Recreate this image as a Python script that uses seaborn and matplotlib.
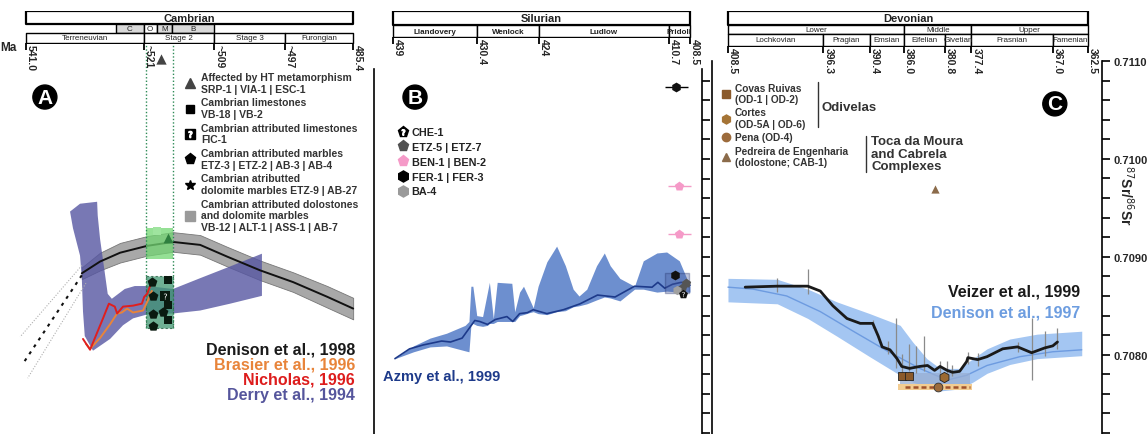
import matplotlib
matplotlib.use("Agg")
import matplotlib.pyplot as plt
from matplotlib.lines import Line2D
from matplotlib.ticker import MultipleLocator, FixedLocator, FormatStrFormatter, NullFormatter
import seaborn as sns

# SECTION - DATA
# Panel A (Cambrian) - ages in Ma, 87Sr/86Sr
den98_age = [531.5, 528.4, 525.0, 520.4, 516.0, 511.4, 506.8, 501.2, 495.6, 489.8, 485.4]
den98_sr = [0.70883, 0.70895, 0.70904, 0.70911, 0.70915, 0.70912, 0.70900, 0.70886, 0.70874, 0.70859, 0.70847]
den98_hi = [0.70889, 0.70904, 0.70914, 0.70921, 0.70925, 0.70922, 0.70910, 0.70896, 0.70884, 0.70870, 0.70858]
den98_lo = [0.70877, 0.70886, 0.70894, 0.70901, 0.70905, 0.70902, 0.70890, 0.70876, 0.70864, 0.70848, 0.70836]
den98_ext_age = [531.5, 541.7]
den98_ext_sr = [0.70881, 0.70789]
den98_ext_hi_age = [531.5, 542.0]
den98_ext_hi_sr = [0.70891, 0.70818]
den98_ext_lo_age = [530.8, 540.7]
den98_ext_lo_sr = [0.70873, 0.70776]

derry_age = [533.5, 531.8, 528.9, 528.8, 528.4, 527.7, 527.1, 526.4, 524.2, 522.5, 520.4, 516.0,
             511.4, 506.3, 500.9, 500.9, 506.3, 511.4, 516.0, 520.4, 522.8, 524.5, 526.7, 529.6,
             531.0, 531.3, 531.5, 531.8, 533.0]
derry_sr = [0.70946, 0.70954, 0.70956, 0.70942, 0.70918, 0.70888, 0.70862, 0.70857, 0.70867, 0.70870,
            0.70870, 0.70867, 0.70878, 0.70890, 0.70903, 0.70860, 0.70852, 0.70845, 0.70842, 0.70841,
            0.70837, 0.70830, 0.70816, 0.70804, 0.70819, 0.70844, 0.70878, 0.70901, 0.70929]

nich_age = [531.3, 530.1, 527.9, 526.9, 525.9, 525.5, 524.5, 522.8, 521.3, 520.9, 520.4, 519.9]
nich_sr = [0.70816, 0.70805, 0.70837, 0.70852, 0.70849, 0.70842, 0.70849, 0.70850, 0.70852, 0.70859, 0.70862, 0.70870]
bras_age = [530.8, 530.1, 528.4, 526.7, 525.5, 524.7, 523.8, 522.8, 521.1, 520.3, 519.6]
bras_sr = [0.70811, 0.70806, 0.70817, 0.70831, 0.70842, 0.70843, 0.70847, 0.70843, 0.70845, 0.70855, 0.70865]

sample_box_age = [520.6, 516.0]
ht_box_sr = [0.70898, 0.70929]
marble_box_sr = [0.70827, 0.70880]
ht_marker_age, ht_marker_sr = [518.0], [0.71102]
ht_sq_age, ht_sq_sr = [518.7], [0.70926]
ht_tri_age, ht_tri_sr = [516.9], [0.70919]
marble_age = [519.6, 519.4, 519.4, 517.7, 519.4]
marble_sr = [0.70874, 0.70860, 0.70841, 0.70844, 0.70829]
lime_age = [516.8, 516.8, 516.8]
lime_sr = [0.70876, 0.70851, 0.70835]
fic_age, fic_sr = [517.4], [0.70860]

# Panel B (Silurian)
azmy_age = [438.8, 437.3, 435.9, 434.0, 433.1, 431.9, 430.6, 430.1, 429.3, 428.5, 427.3, 426.7, 426.0, 425.2,
            424.6, 423.2, 421.5, 419.8, 418.0, 416.2, 414.2, 412.4, 411.8, 411.1, 410.3, 409.4, 408.5]
azmy_sr = [0.70796, 0.70806, 0.70810, 0.70814, 0.70813, 0.70817, 0.70835, 0.70834, 0.70831, 0.70836, 0.70839,
           0.70834, 0.70842, 0.70843, 0.70846, 0.70842, 0.70846, 0.70852, 0.70861, 0.70859, 0.70870, 0.70869,
           0.70874, 0.70868, 0.70872, 0.70874, 0.70871]
azmy_band_age = [438.8, 436.9, 435.2, 433.5, 431.6, 431.2, 431.0, 430.8, 430.4, 429.8, 429.3, 429.1, 428.7,
                 428.3, 426.8, 426.5, 426.0, 425.6, 425.0, 424.6, 424.1, 423.2, 422.2, 421.3, 420.5, 419.9,
                 419.1, 418.1, 417.3, 416.7, 415.7, 414.2, 413.3, 411.9, 410.9, 409.6, 408.5]
azmy_hi = [0.70796, 0.70809, 0.70817, 0.70822, 0.70830, 0.70834, 0.70870, 0.70870, 0.70840, 0.70839, 0.70864,
           0.70874, 0.70837, 0.70874, 0.70873, 0.70844, 0.70864, 0.70870, 0.70857, 0.70848, 0.70870, 0.70895,
           0.70911, 0.70891, 0.70867, 0.70860, 0.70867, 0.70891, 0.70904, 0.70891, 0.70878, 0.70870, 0.70896,
           0.70904, 0.70905, 0.70896, 0.70870]
azmy_lo = [0.70796, 0.70803, 0.70808, 0.70809, 0.70804, 0.70803, 0.70830, 0.70832, 0.70830, 0.70829, 0.70830,
           0.70832, 0.70832, 0.70834, 0.70834, 0.70834, 0.70840, 0.70841, 0.70843, 0.70844, 0.70842, 0.70841,
           0.70844, 0.70845, 0.70849, 0.70850, 0.70852, 0.70856, 0.70859, 0.70858, 0.70855, 0.70867, 0.70867,
           0.70864, 0.70865, 0.70864, 0.70864]
fer_err_age, fer_err_sr, fer_xerr = [409.9], [0.71074], [1.15]
fer_age, fer_sr = [410.0], [0.70881]
ben_age, ben_sr, ben_xerr = [409.6, 409.6], [0.70972, 0.70923], [1.2, 1.2]
etz_age, etz_sr = [409.3, 408.9], [0.70868, 0.70873]
ba_age, ba_sr = [409.8], [0.70866]
che_age, che_sr = [409.2], [0.70862]
b_box_age = [411.1, 408.6]
b_box_sr = [0.70863, 0.70884]

# Panel C (Devonian)
den97_band_age = [408.5, 402.2, 398.3, 394.6, 390.4, 386.5, 384.9, 383.1, 381.4, 378.9, 377.2, 375.4, 372.5, 369.0, 363.3]
den97_hi = [0.70878, 0.70877, 0.70867, 0.70854, 0.70842, 0.70830, 0.70813, 0.70796, 0.70786, 0.70786, 0.70796,
            0.70806, 0.70816, 0.70821, 0.70824]
den97_lo = [0.70854, 0.70852, 0.70837, 0.70819, 0.70798, 0.70779, 0.70772, 0.70767, 0.70763, 0.70765, 0.70772,
            0.70781, 0.70790, 0.70796, 0.70799]
den97_age = [408.5, 405.3, 401.0, 396.7, 392.5, 388.2, 384.0, 380.5, 378.0, 375.4, 371.2, 367.0, 363.3]
den97_sr = [0.70869, 0.70867, 0.70860, 0.70844, 0.70824, 0.70804, 0.70786, 0.70774, 0.70779, 0.70789, 0.70798,
            0.70803, 0.70805]
veizer_age = [406.3, 402.2, 398.3, 396.7, 395.1, 393.3, 391.6, 390.0, 389.3, 388.8, 387.8, 386.9, 386.3, 385.3,
              384.0, 383.0, 382.1, 381.4, 380.5, 379.8, 378.9, 378.0, 377.85, 376.6, 375.4, 373.4, 371.5, 369.7,
              368.0, 367.0, 366.4]
veizer_sr = [0.70869, 0.70870, 0.70870, 0.70865, 0.70850, 0.70837, 0.70832, 0.70832, 0.70819, 0.70808, 0.70805,
             0.70796, 0.70788, 0.70786, 0.70788, 0.70789, 0.70784, 0.70788, 0.70784, 0.70782, 0.70783, 0.70793,
             0.70797, 0.70795, 0.70798, 0.70806, 0.70808, 0.70802, 0.70807, 0.70809, 0.70813]
veizer_err_age = [402.2, 398.3, 390.0, 388.1, 387.0, 386.3, 385.4, 384.5, 383.5, 381.4, 380.5, 379.9, 377.85,
                  376.6, 371.5, 369.7, 368.0, 366.4]
veizer_err_hi = [0.70878, 0.70888, 0.70835, 0.70814, 0.70837, 0.70801, 0.70811, 0.70809, 0.70819, 0.70794,
                 0.70794, 0.70789, 0.70803, 0.70802, 0.70813, 0.70837, 0.70824, 0.70827]
veizer_err_lo = [0.70864, 0.70862, 0.70827, 0.70801, 0.70786, 0.70781, 0.70783, 0.70781, 0.70783, 0.70781,
                 0.70781, 0.70778, 0.70791, 0.70788, 0.70803, 0.70774, 0.70799, 0.70806]
covas_age, covas_sr = [386.3, 385.4], [0.70778, 0.70778]
cortes_age, cortes_sr = [380.9], [0.70777]
pena_age, pena_sr = [381.7], [0.70767]
cab_age, cab_sr = [382.1], [0.70969]
odiv_box_age, odiv_box_sr = [386.5, 377.6], [0.70770, 0.70781]
toca_box_age, toca_box_sr = [386.8, 377.3], [0.70764, 0.70770]
toca_line_age, toca_line_sr = [385.9, 377.6], [0.70767, 0.70767]

# Headers (label, start, end, face)
cambrian_rows = [
    [("Cambrian", 541.0, 485.4, "white")],
    [("C", 525.7, 521.0, "#d9d9d9"), ("O", 521.0, 518.8, "white"), ("M", 518.8, 516.2, "#d9d9d9"),
     ("B", 516.2, 509.0, "#d9d9d9")],
    [("Terreneuvian", 541.0, 521.0, "white"), ("Stage 2", 521.0, 509.0, "white"),
     ("Stage 3", 509.0, 497.0, "white"), ("Furongian", 497.0, 485.4, "white")],
]
cambrian_ticks = [541.0, 521.0, 509.0, 497.0, 485.4]
cambrian_labels = ["541.0", "~521", "~509", "~497", "485.4"]
silurian_rows = [
    [("Silurian", 439.0, 408.5, "white")],
    [("Llandovery", 439.0, 430.4, "white"), ("Wenlock", 430.4, 424.0, "white"),
     ("Ludlow", 424.0, 410.7, "white"), ("Pridoli", 410.7, 408.5, "white")],
]
silurian_ticks = [439.0, 430.4, 424.0, 410.7, 408.5]
silurian_labels = ["439", "430.4", "424", "410.7", "408.5"]
devonian_rows = [
    [("Devonian", 408.5, 362.5, "white")],
    [("Lower", 408.5, 386.0, "white"), ("Middle", 386.0, 377.4, "white"), ("Upper", 377.4, 362.5, "white")],
    [("Lochkovian", 408.5, 396.3, "white"), ("Pragian", 396.3, 390.4, "white"), ("Emsian", 390.4, 386.0, "white"),
     ("Eifelian", 386.0, 380.8, "white"), ("Givetian", 380.8, 377.4, "white"),
     ("Frasnian", 377.4, 367.0, "white"), ("Famenian", 367.0, 362.5, "white")],
]
devonian_ticks = [408.5, 396.3, 390.4, 386.0, 380.8, 377.4, 367.0, 362.5]
devonian_labels = ["408.5", "396.3", "390.4", "386.0", "380.8", "377.4", "367.0", "362.5"]
# !SECTION

# SECTION - CONFIG
sns.set_style("white")
plt.rcParams["font.family"] = ["Liberation Sans", "DejaVu Sans"]
W, H = 1148, 435
# !SECTION


# SECTION - FUNCTIONS
def add_axes_px(fig, x0, x1, y0, y1):
    return fig.add_axes([x0 / W, 1 - y1 / H, (x1 - x0) / W, (y1 - y0) / H])


def draw_header(ax, rows, bounds, ticks, tick_labels, xlim, sub_weight="normal"):
    for r, (cells, (top, bot)) in enumerate(zip(rows, bounds)):
        for label, a0, a1, face in cells:
            ax.fill_between([a0, a1], top, bot, facecolor=face, edgecolor="black",
                            linewidth=1.6 if r == 0 else 1.0)
            ax.text((a0 + a1) / 2, (top + bot) / 2, label, ha="center", va="center",
                    fontsize=8 if r == 0 else 5.8,
                    fontweight="bold" if r == 0 else sub_weight, color="#222222")
    ax.set_xlim(xlim)
    ax.set_ylim(bounds[-1][1], 0)
    ax.set_xticks(ticks)
    ax.set_xticklabels(tick_labels, rotation=270, ha="left", fontsize=7.5, fontweight="bold")
    ax.tick_params(axis="x", length=5, width=1.3, pad=-4, bottom=True, color="black")
    ax.set_yticks([])
    for s in ax.spines.values():
        s.set_visible(False)
    ax.patch.set_visible(False)


def panel_letter(ax, x, y, s):
    ax.text(x, y, s, transform=ax.transAxes, ha="center", va="center", color="white",
            fontsize=15, fontweight="bold",
            bbox=dict(boxstyle="circle,pad=0.12", fc="black", ec="black"))


def style_frame(ax):
    ax.spines["top"].set_visible(False)
    ax.spines["bottom"].set_visible(False)
    for side in ("left", "right"):
        ax.spines[side].set_visible(True)
        ax.spines[side].set_color("black")
        ax.spines[side].set_linewidth(1.2)
    ax.set_xticks([])
    ax.patch.set_visible(False)
# !SECTION


# SECTION - MAIN
if __name__ == "__main__":
    fig = plt.figure(figsize=(11.48, 4.35), dpi=100)

    # ---------------- Panel A ----------------
    ax_a = add_axes_px(fig, 0, 362, 45, 435)
    xlim_a = (545.4, 483.9)
    ax_a.set_xlim(xlim_a)
    ax_a.set_ylim(0.70719, 0.71117)
    ax_a.set_axis_off()

    ax_a.fill_between(den98_age, den98_lo, den98_hi, facecolor="#a8a8a8", edgecolor="#777777",
                      linewidth=0.6, zorder=1)
    ax_a.fill(derry_age, derry_sr, color="#5656a2", alpha=0.8, linewidth=0, zorder=2)
    sns.lineplot(x=den98_age, y=den98_sr, ax=ax_a, color="#111111", linewidth=1.4,
                 sort=False, estimator=None, zorder=3)
    sns.lineplot(x=den98_ext_age, y=den98_ext_sr, ax=ax_a, color="#111111", linewidth=1.5,
                 linestyle=(0, (1.5, 2.5)), sort=False, estimator=None, zorder=3)
    for xa, ya in ((den98_ext_hi_age, den98_ext_hi_sr), (den98_ext_lo_age, den98_ext_lo_sr)):
        sns.lineplot(x=xa, y=ya, ax=ax_a, color="#b0b0b0", linewidth=0.8,
                     linestyle=(0, (1, 1.5)), sort=False, estimator=None, zorder=3)

    ax_a.fill_between(sample_box_age, ht_box_sr[0], ht_box_sr[1], facecolor="#72d672",
                      alpha=0.75, linewidth=0, zorder=4)
    ax_a.fill_between(sample_box_age, marble_box_sr[0], marble_box_sr[1], facecolor="#3f9670",
                      edgecolor="#1e5a3c", linestyle=(0, (2, 2)), alpha=0.75, linewidth=0.8, zorder=4)
    ax_a.vlines(sample_box_age, marble_box_sr[0], 0.71117, colors="#2e8b57",
                linestyles=(0, (1, 1.5)), linewidth=1.0, zorder=4)

    sns.lineplot(x=bras_age, y=bras_sr, ax=ax_a, color="#e8843a", linewidth=1.4,
                 sort=False, estimator=None, zorder=5)
    sns.lineplot(x=nich_age, y=nich_sr, ax=ax_a, color="#e01e1e", linewidth=1.4,
                 sort=False, estimator=None, zorder=5)

    sns.scatterplot(x=ht_marker_age, y=ht_marker_sr, ax=ax_a, marker="^", s=55, color="#444444",
                    linewidth=0, zorder=6, clip_on=False)
    sns.scatterplot(x=ht_sq_age, y=ht_sq_sr, ax=ax_a, marker="s", s=40, color="#9fe49f",
                    linewidth=0, zorder=6)
    sns.scatterplot(x=ht_tri_age, y=ht_tri_sr, ax=ax_a, marker="^", s=50, color="#2f7f3f",
                    linewidth=0, zorder=6)
    sns.scatterplot(x=marble_age, y=marble_sr, ax=ax_a, marker="p", s=55, color="#0a1a10",
                    linewidth=0, zorder=6)
    sns.scatterplot(x=lime_age, y=lime_sr, ax=ax_a, marker="s", s=28, color="#0a1a10",
                    linewidth=0, zorder=6)
    sns.scatterplot(x=fic_age, y=fic_sr, ax=ax_a, marker="s", s=45, color="#0a1a10",
                    linewidth=0, zorder=6)
    sns.scatterplot(x=fic_age, y=fic_sr, ax=ax_a, marker="$?$", s=18, color="white",
                    linewidth=0, zorder=7)

    handles_a = [
        Line2D([], [], marker="^", color="#444444", ls="", ms=7),
        Line2D([], [], marker="s", color="black", ls="", ms=6),
        (Line2D([], [], marker="s", color="black", ls="", ms=7),
         Line2D([], [], marker="$?$", color="white", ls="", ms=4.5)),
        Line2D([], [], marker="p", color="black", ls="", ms=8),
        Line2D([], [], marker="*", color="black", ls="", ms=7),
        Line2D([], [], marker="s", color="#9a9a9a", ls="", ms=7),
    ]
    labels_a = [
        "Affected by HT metamorphism\nSRP-1 | VIA-1 | ESC-1",
        "Cambrian limestones\nVB-18 | VB-2",
        "Cambrian attributed limestones\nFIC-1",
        "Cambrian attributed marbles\nETZ-3 | ETZ-2 | AB-3 | AB-4",
        "Cambrian atributted\ndolomite marbles ETZ-9 | AB-27",
        "Cambrian attributed dolostones\nand dolomite marbles\nVB-12 | ALT-1 | ASS-1 | AB-7",
    ]
    leg_a = ax_a.legend(handles_a, labels_a, loc="upper left", bbox_to_anchor=(0.51, 0.928),
                        frameon=False, prop={"size": 7.5, "weight": "bold"}, labelcolor="#333333",
                        handlelength=1.0, handletextpad=0.6, labelspacing=0.36,
                        borderpad=0, borderaxespad=0)
    for t in leg_a.get_texts():
        t.set_clip_box(ax_a.bbox)
        t.set_clip_on(True)

    refs_a = ["Denison et al., 1998", "Brasier et al., 1996", "Nicholas, 1996", "Derry et al., 1994"]
    cols_a = ["#1a1a1a", "#e8843a", "#dd1c1c", "#55559c"]
    for i, (lab, col) in enumerate(zip(refs_a, cols_a)):
        ax_a.text(0.981, 0.218 - i * 0.0385, lab, transform=ax_a.transAxes, ha="right", va="center",
                  fontsize=11.5, fontweight="bold", color=col)
    panel_letter(ax_a, 0.124, 0.864, "A")

    hd_a = add_axes_px(fig, 0, 362, 12, 44)
    draw_header(hd_a, cambrian_rows, [(0, 13), (13, 22), (22, 32)], cambrian_ticks,
                cambrian_labels, xlim_a)
    hd_a.text(0.0, -0.12, "Ma", transform=hd_a.transAxes, ha="left", va="center",
              fontsize=8.5, fontweight="bold")

    # ---------------- Panel B ----------------
    ax_b = add_axes_px(fig, 374, 702, 70, 435)
    xlim_b = (440.95, 407.27)
    ax_b.set_xlim(xlim_b)
    ax_b.set_ylim(0.70719, 0.71092)
    style_frame(ax_b)
    ax_b.yaxis.tick_right()
    ax_b.yaxis.set_major_locator(MultipleLocator(0.0002))
    ax_b.yaxis.set_major_formatter(NullFormatter())
    ax_b.tick_params(axis="y", which="both", right=True, left=False, length=6, width=1.2,
                     direction="out", color="black")

    ax_b.fill_between(azmy_band_age, azmy_lo, azmy_hi, facecolor="#6d8fcf", linewidth=0, zorder=1)
    sns.lineplot(x=azmy_age, y=azmy_sr, ax=ax_b, color="#1d3a8a", linewidth=1.2,
                 sort=False, estimator=None, zorder=2)
    ax_b.fill_between(b_box_age, b_box_sr[0], b_box_sr[1], facecolor="#4a5c9e", alpha=0.35,
                      edgecolor="#24306a", linewidth=1.0, zorder=3)
    ax_b.errorbar(fer_err_age, fer_err_sr, xerr=fer_xerr, fmt="none", ecolor="black",
                  elinewidth=1.0, zorder=3)
    ax_b.errorbar(ben_age, ben_sr, xerr=ben_xerr, fmt="none", ecolor="#f39ac6",
                  elinewidth=1.0, zorder=3)
    sns.scatterplot(x=fer_err_age + fer_age, y=fer_err_sr + fer_sr, ax=ax_b, marker="h", s=50,
                    color="#111111", linewidth=0, zorder=4)
    sns.scatterplot(x=ben_age, y=ben_sr, ax=ax_b, marker="p", s=50, color="#f59ac8",
                    linewidth=0, zorder=4)
    sns.scatterplot(x=etz_age, y=etz_sr, ax=ax_b, marker="p", s=50, color="#555555",
                    linewidth=0, zorder=4)
    sns.scatterplot(x=ba_age, y=ba_sr, ax=ax_b, marker="h", s=45, color="#a0a0a0",
                    linewidth=0, zorder=4)
    sns.scatterplot(x=che_age, y=che_sr, ax=ax_b, marker="p", s=45, color="#111111",
                    linewidth=0, zorder=5)
    sns.scatterplot(x=che_age, y=che_sr, ax=ax_b, marker="$?$", s=14, color="white",
                    linewidth=0, zorder=6)

    handles_b = [
        (Line2D([], [], marker="p", color="black", ls="", ms=8),
         Line2D([], [], marker="$?$", color="white", ls="", ms=4)),
        Line2D([], [], marker="p", color="#505050", ls="", ms=8),
        Line2D([], [], marker="p", color="#f59ac8", ls="", ms=8),
        Line2D([], [], marker="h", color="black", ls="", ms=8),
        Line2D([], [], marker="h", color="#9a9a9a", ls="", ms=8),
    ]
    labels_b = ["CHE-1", "ETZ-5 | ETZ-7", "BEN-1 | BEN-2", "FER-1 | FER-3", "BA-4"]
    ax_b.legend(handles_b, labels_b, loc="upper left", bbox_to_anchor=(0.075, 0.84), frameon=False,
                prop={"size": 7.8, "weight": "bold"}, labelcolor="#222222", handlelength=0.8,
                handletextpad=0.4, labelspacing=0.44, borderpad=0, borderaxespad=0)
    ax_b.text(0.027, 0.159, "Azmy et al., 1999", transform=ax_b.transAxes, ha="left", va="center",
              fontsize=10.5, fontweight="bold", color="#1d3a8a")
    panel_letter(ax_b, 0.125, 0.923, "B")

    hd_b = add_axes_px(fig, 374, 702, 12, 38)
    draw_header(hd_b, silurian_rows, [(0, 14), (14, 26)], silurian_ticks, silurian_labels,
                xlim_b, sub_weight="bold")

    # ---------------- Panel C ----------------
    ax_c = add_axes_px(fig, 712, 1102, 62, 435)
    xlim_c = (410.54, 360.71)
    ax_c.set_xlim(xlim_c)
    ax_c.set_ylim(0.70719, 0.7110)
    style_frame(ax_c)
    ax_c.yaxis.tick_right()
    ax_c.yaxis.set_major_locator(FixedLocator([0.708, 0.709, 0.710, 0.711]))
    ax_c.yaxis.set_minor_locator(MultipleLocator(0.0002))
    ax_c.yaxis.set_major_formatter(FormatStrFormatter("%.4f"))
    ax_c.tick_params(axis="y", which="both", right=True, left=False, length=6, width=1.2,
                     direction="out", color="black", labelsize=8, pad=2)
    for lab in ax_c.get_yticklabels():
        lab.set_fontweight("bold")
    ax_c.set_ylabel(r"$^{87}$Sr/$^{86}$Sr", rotation=270, fontsize=10, fontweight="bold",
                    ha="center", va="center")
    ax_c.yaxis.set_label_position("right")
    ax_c.yaxis.set_label_coords(1.085, 0.643)

    ax_c.fill_between(den97_band_age, den97_lo, den97_hi, facecolor="#a4c6f2", linewidth=0, zorder=1)
    sns.lineplot(x=den97_age, y=den97_sr, ax=ax_c, color="#6d9be0", linewidth=1.0,
                 sort=False, estimator=None, zorder=2)
    ax_c.fill_between(toca_box_age, toca_box_sr[0], toca_box_sr[1], facecolor="#f3cd92",
                      linewidth=0, zorder=3)
    ax_c.fill_between(odiv_box_age, odiv_box_sr[0], odiv_box_sr[1], facecolor="#98aed3",
                      alpha=0.75, linewidth=0, zorder=3)
    sns.lineplot(x=toca_line_age, y=toca_line_sr, ax=ax_c, color="#a0522d", linewidth=1.8,
                 linestyle=(0, (2, 1.2)), sort=False, estimator=None, zorder=4)
    ax_c.vlines(veizer_err_age, veizer_err_lo, veizer_err_hi, colors="#8a8a8a", linewidth=0.9, zorder=4)
    sns.lineplot(x=veizer_age, y=veizer_sr, ax=ax_c, color="#1a1a1a", linewidth=2.0,
                 sort=False, estimator=None, zorder=5)
    sns.scatterplot(x=covas_age, y=covas_sr, ax=ax_c, marker="s", s=40, color="#8b5a2b",
                    edgecolor="#222222", linewidth=0.6, zorder=6)
    sns.scatterplot(x=cortes_age, y=cortes_sr, ax=ax_c, marker="h", s=55, color="#9c6a32",
                    edgecolor="#222222", linewidth=0.6, zorder=6)
    sns.scatterplot(x=pena_age, y=pena_sr, ax=ax_c, marker="o", s=40, color="#9c6b3c",
                    edgecolor="#333333", linewidth=0.6, zorder=6)
    sns.scatterplot(x=cab_age, y=cab_sr, ax=ax_c, marker="^", s=35, color="#8b6b4a",
                    linewidth=0, zorder=6)

    handles_c = [
        Line2D([], [], marker="s", color="#8b5a2b", ls="", ms=6),
        Line2D([], [], marker="h", color="#a57436", ls="", ms=6.5),
        Line2D([], [], marker="o", color="#9c6b3c", ls="", ms=6),
        Line2D([], [], marker="^", color="#8b6b4a", ls="", ms=6),
    ]
    labels_c = ["Covas Ruivas\n(OD-1 | OD-2)", "Cortes\n(OD-5A | OD-6)", "Pena (OD-4)",
                "Pedreira de Engenharia\n(dolostone; CAB-1)"]
    ax_c.legend(handles_c, labels_c, loc="upper left", bbox_to_anchor=(0.025, 0.942), frameon=False,
                prop={"size": 7.3, "weight": "bold"}, labelcolor="#333333", handlelength=0.8,
                handletextpad=0.5, labelspacing=0.32, borderpad=0, borderaxespad=0)
    ax_c.plot([0.272, 0.272], [0.944, 0.823], transform=ax_c.transAxes, color="#333333", lw=1.0)
    ax_c.text(0.282, 0.877, "Odivelas", transform=ax_c.transAxes, ha="left", va="center",
              fontsize=9.5, fontweight="bold", color="#333333")
    ax_c.plot([0.395, 0.395], [0.799, 0.702], transform=ax_c.transAxes, color="#333333", lw=1.0)
    ax_c.text(0.408, 0.751, "Toca da Moura\nand Cabrela\nComplexes", transform=ax_c.transAxes,
              ha="left", va="center", fontsize=9.5, fontweight="bold", color="#333333", linespacing=1.05)
    ax_c.text(0.944, 0.383, "Veizer et al., 1999", transform=ax_c.transAxes, ha="right", va="center",
              fontsize=11.5, fontweight="bold", color="#1a1a1a")
    ax_c.text(0.944, 0.327, "Denison et al., 1997", transform=ax_c.transAxes, ha="right", va="center",
              fontsize=11.5, fontweight="bold", color="#6d9de0")
    panel_letter(ax_c, 0.879, 0.885, "C")

    hd_c = add_axes_px(fig, 712, 1102, 12, 47)
    draw_header(hd_c, devonian_rows, [(0, 14), (14, 23), (23, 35)], devonian_ticks,
                devonian_labels, xlim_c)

    fig.savefig("out.png", dpi=100)
# !SECTION
